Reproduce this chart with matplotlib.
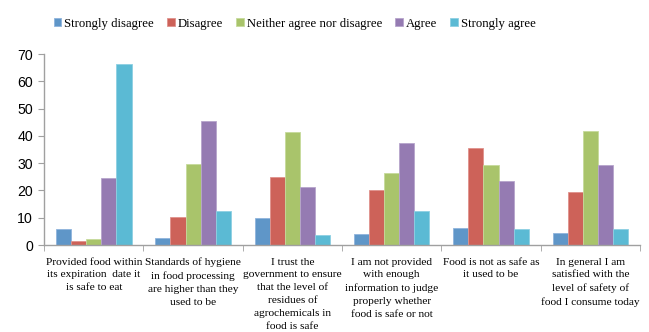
import matplotlib
matplotlib.use("Agg")
import matplotlib.pyplot as plt
import numpy as np

categories = [
    "Provided food within\nits expiration  date it\nis safe to eat",
    "Standards of hygiene\nin food processing\nare higher than they\nused to be",
    "I trust the\ngovernment to ensure\nthat the level of\nresidues of\nagrochemicals in\nfood is safe",
    "I am not provided\nwith enough\ninformation to judge\nproperly whether\nfood is safe or not",
    "Food is not as safe as\nit used to be",
    "In general I am\nsatisfied with the\nlevel of safety of\nfood I consume today",
]
series_names = ["Strongly disagree", "Disagree", "Neither agree nor disagree", "Agree", "Strongly agree"]
strongly_disagree = [5.7, 2.4, 9.9, 4.1, 6.3, 4.4]
disagree = [1.3, 10.1, 25.0, 20.3, 35.7, 19.4]
neither = [2.3, 29.7, 41.3, 26.3, 29.2, 41.8]
agree = [24.5, 45.5, 21.1, 37.5, 23.3, 29.2]
strongly_agree = [66.5, 12.5, 3.5, 12.3, 5.8, 5.7]
yticks = [0, 10, 20, 30, 40, 50, 60, 70]

colors = ["#5F96C8", "#CD6259", "#A9C46B", "#957BB2", "#5BBAD4"]
edges = ["#8FB4DC", "#E0928C", "#C6DA9C", "#B7A5CC", "#8DD0E2"]
data = [strongly_disagree, disagree, neither, agree, strongly_agree]

fig = plt.figure(figsize=(6.49, 3.32), dpi=100)
ax = fig.add_axes([0.068, 0.262, 0.918, 0.575])

x = np.arange(len(categories))
w = 0.152
for i, (vals, name) in enumerate(zip(data, series_names)):
    ax.bar(x + (i - 2) * w, vals, width=w, color=colors[i], edgecolor=edges[i],
           linewidth=0.6, label=name, zorder=2)

ax.set_xlim(-0.5, len(categories) - 0.5)
ax.set_ylim(0, 70)
ax.set_yticks(yticks)
ax.set_yticklabels([str(t) for t in yticks], fontfamily="Liberation Sans", fontsize=10.2)

ax.set_xticks(x)
ax.set_xticklabels(categories, fontfamily="Liberation Serif", fontsize=8.2, linespacing=1.55)
ax.tick_params(axis="x", which="major", length=0, pad=9)
ax.set_xticks(np.arange(-0.5, len(categories) + 0.5, 1), minor=True)
ax.tick_params(axis="x", which="minor", length=4, color="#A0A0A0", direction="out")
ax.tick_params(axis="y", length=4, color="#A0A0A0", direction="out", pad=4)

for s in ["top", "right"]:
    ax.spines[s].set_visible(False)
for s in ["left", "bottom"]:
    ax.spines[s].set_color("#A0A0A0")
    ax.spines[s].set_linewidth(1.0)

leg = fig.legend(loc="center", bbox_to_anchor=(0.454, 0.928), ncol=5, frameon=False,
                 prop={"family": "Liberation Serif", "size": 9.2},
                 handlelength=0.6, handleheight=0.6, handletextpad=0.25, columnspacing=1.0)

fig.savefig("out.png", dpi=100)
